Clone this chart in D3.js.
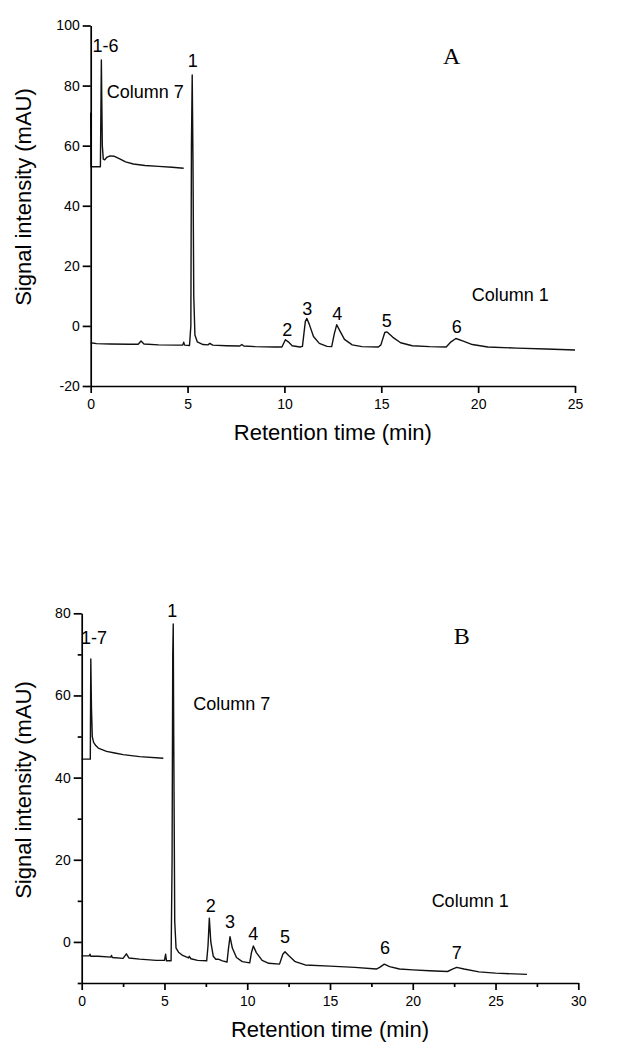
<!DOCTYPE html>
<html>
<head>
<meta charset="utf-8">
<script src="https://cdn.jsdelivr.net/npm/d3@7"></script>
<style>
  body { margin: 0; background: #fff; }
  svg { display: block; font-family: "Liberation Sans", Arial, sans-serif; }
  .axis path, .axis line { stroke: #000; stroke-width: 1.7; }
  .axis text { font-size: 14px; fill: #000; }
  .trace { fill: none; stroke: #111; stroke-width: 1.4; stroke-linejoin: round; }
</style>
</head>
<body>
<div id="chart"></div>
<script>
// ---- data: [time (min), signal (mAU)] ----
var col1A = [[0,-5.6],[0.3,-5.9],[1,-6.0],[2,-6.1],[2.45,-6.1],[2.6,-5.0],[2.75,-6.0],[3.5,-6.3],[4.5,-6.4],
  [4.75,-6.4],[4.8,-5.4],[4.85,-6.4],[5.1,-6.5],[5.17,0],[5.2,60],[5.24,83.5],[5.28,55],[5.32,10],[5.38,-3],
  [5.5,-5.3],[5.8,-6.2],[6.05,-6.3],[6.15,-5.8],[6.3,-6.4],[7,-6.6],[7.7,-6.7],[7.8,-6.2],[7.9,-6.7],[8.5,-6.9],
  [9.5,-7.0],[9.87,-7.0],[10.05,-4.6],[10.2,-5.3],[10.4,-6.6],[10.8,-7.0],[10.93,-6.8],[11.08,1.5],[11.16,2.5],
  [11.28,0.6],[11.5,-3.5],[11.8,-5.8],[12.2,-6.8],[12.44,-6.9],[12.58,-2.5],[12.7,0.4],[12.85,-1.5],[13.1,-4.5],
  [13.5,-6.3],[14,-6.9],[14.85,-7.0],[14.98,-6.3],[15.18,-2.2],[15.3,-2.0],[15.6,-3.8],[16,-5.6],[16.6,-6.6],
  [17.5,-6.9],[18.35,-7.0],[18.6,-5.3],[18.85,-4.2],[19.2,-5.0],[19.7,-6.2],[20.5,-7.0],[22,-7.4],[23.5,-7.7],[25,-8.0]];
var col7A = [[0,71],[0.02,53],[0.5,53],[0.55,88.5],[0.6,60],[0.65,55.5],[0.72,55.3],[0.85,56.2],[1.0,56.6],
  [1.2,56.5],[1.5,55.6],[1.8,54.6],[2.2,53.9],[2.8,53.4],[3.5,53.1],[4.2,52.8],[4.8,52.5]];
var col1B = [[0,-3.4],[0.45,-3.4],[0.5,-3.0],[0.55,-3.5],[1.0,-3.5],[1.75,-3.7],[1.8,-3.3],[1.85,-3.8],[2.5,-4.0],
  [2.7,-2.9],[2.85,-3.9],[3.5,-4.2],[4.5,-4.5],[5.0,-4.5],[5.07,-3.0],[5.12,-4.6],[5.4,-4.6],[5.46,20],[5.5,70],
  [5.53,77.4],[5.56,50],[5.62,5],[5.7,-1.5],[5.85,-2.5],[6.1,-3.3],[6.45,-3.9],[6.5,-3.5],[6.6,-4.1],[7.0,-4.5],
  [7.55,-4.6],[7.63,-1],[7.71,5.8],[7.8,0],[7.95,-3.5],[8.1,-4.2],[8.25,-4.2],[8.5,-4.6],[8.78,-4.9],[8.87,-1.5],
  [8.96,1.3],[9.1,-1.5],[9.35,-3.8],[9.7,-4.8],[10.15,-5.1],[10.26,-2.5],[10.37,-1.0],[10.55,-2.6],[10.9,-4.5],
  [11.3,-5.2],[11.95,-5.4],[12.15,-3.0],[12.28,-2.4],[12.5,-3.3],[12.9,-4.8],[13.5,-5.6],[15,-5.9],[16.5,-6.2],
  [17.8,-6.6],[18.0,-6.2],[18.28,-5.4],[18.6,-6.0],[19.2,-6.6],[20,-6.8],[21,-7.0],[22.1,-7.2],[22.4,-6.6],
  [22.65,-6.2],[23.1,-6.6],[24,-7.3],[25,-7.6],[26.9,-7.9]];
var col7B = [[0,44.5],[0.52,44.5],[0.55,68.9],[0.59,57],[0.64,50],[0.72,48.6],[0.85,47.8],[1.0,47.2],[1.5,46.4],
  [2.0,46.0],[2.5,45.6],[3.5,45.1],[4.93,44.7]];

// tick values
var ticksXA = [0, 5, 10, 15, 20, 25];
var ticksYA = [-20, 0, 20, 40, 60, 80, 100];
var ticksXB = [0, 5, 10, 15, 20, 25, 30];
var ticksYB = [0, 20, 40, 60, 80];
var minorXB = [2.5, 7.5, 12.5, 17.5, 22.5, 27.5];
var minorYB = [-10, 10, 30, 50, 70];

// annotations: [text, time, signal, anchor]
var labelsA = [["1-6", 0.76, 91.2, "middle"], ["Column 7", 0.83, 75.8, "start"], ["1", 5.27, 86.2, "middle"],
  ["Column 1", 19.67, 8.3, "start"], ["2", 10.15, -3.2, "middle"], ["3", 11.18, 3.8, "middle"],
  ["4", 12.73, 2.1, "middle"], ["5", 15.28, -0.3, "middle"], ["6", 18.89, -2.5, "middle"]];
var labelsB = [["1-7", 0.75, 72.6, "middle"], ["1", 5.47, 79.0, "middle"], ["Column 7", 6.74, 56.4, "start"],
  ["Column 1", 21.14, 8.4, "start"], ["2", 7.79, 7.4, "middle"], ["3", 8.96, 3.3, "middle"],
  ["4", 10.37, 0.5, "middle"], ["5", 12.28, -0.3, "middle"], ["6", 18.32, -3.0, "middle"], ["7", 22.65, -4.2, "middle"]];

var svg = d3.select("#chart").append("svg")
  .attr("width", 617)
  .attr("height", 1050);

// plain hyphen for negatives, like the original
var fmt = d => String(d);

function drawPanel(opt) {
  var x = d3.scaleLinear().domain(opt.xDomain).range(opt.xRange);
  var y = d3.scaleLinear().domain(opt.yDomain).range(opt.yRange);
  var g = svg.append("g");

  var line = d3.line().x(d => x(d[0])).y(d => y(d[1]));
  opt.traces.forEach(function(t) {
    g.append("path").datum(t).attr("class", "trace").attr("d", line);
  });

  // minor ticks first
  if (opt.minorX) {
    g.append("g").attr("class", "axis")
      .attr("transform", `translate(0,${opt.yRange[0]})`)
      .call(d3.axisBottom(x).tickValues(opt.minorX).tickSize(4).tickFormat(""))
      .select(".domain").remove();
  }
  if (opt.minorY) {
    g.append("g").attr("class", "axis")
      .attr("transform", `translate(${opt.xRange[0]},0)`)
      .call(d3.axisLeft(y).tickValues(opt.minorY).tickSize(4).tickFormat(""))
      .select(".domain").remove();
  }

  g.append("g").attr("class", "axis")
    .attr("transform", `translate(0,${opt.yRange[0]})`)
    .call(d3.axisBottom(x).tickValues(opt.ticksX).tickFormat(fmt).tickSize(7).tickSizeOuter(0).tickPadding(6));

  g.append("g").attr("class", "axis")
    .attr("transform", `translate(${opt.xRange[0]},0)`)
    .call(d3.axisLeft(y).tickValues(opt.ticksY).tickFormat(fmt).tickSize(8).tickSizeOuter(0).tickPadding(3));

  g.selectAll(".peak").data(opt.labels).enter().append("text")
    .attr("x", d => x(d[1]))
    .attr("y", d => y(d[2]))
    .attr("text-anchor", d => d[3])
    .attr("font-size", "18px")
    .text(d => d[0]);

  g.append("text")
    .attr("x", x(opt.panel[1]))
    .attr("y", y(opt.panel[2]))
    .attr("text-anchor", "middle")
    .attr("font-family", "'Liberation Serif', 'Times New Roman', serif")
    .attr("font-size", "24px")
    .text(opt.panel[0]);

  g.append("text")
    .attr("x", (opt.xRange[0] + opt.xRange[1]) / 2)
    .attr("y", opt.yRange[0] + 54)
    .attr("text-anchor", "middle")
    .attr("font-size", "22px")
    .text("Retention time (min)");

  g.append("text")
    .attr("transform", `translate(31,${opt.yTitleCenter}) rotate(-90)`)
    .attr("text-anchor", "middle")
    .attr("font-size", "22px")
    .text("Signal intensity (mAU)");
}

drawPanel({
  xDomain: [0, 25], xRange: [90.7, 575],
  yDomain: [-20, 100], yRange: [386, 25.5],
  traces: [col1A, col7A],
  ticksX: ticksXA, ticksY: ticksYA,
  labels: labelsA, panel: ["A", 18.64, 87.3],
  yTitleCenter: 197
});

drawPanel({
  xDomain: [0, 30], xRange: [81.7, 578.3],
  yDomain: [-10, 80], yRange: [983, 613.3],
  traces: [col1B, col7B],
  ticksX: ticksXB, ticksY: ticksYB,
  minorX: minorXB, minorY: minorYB,
  labels: labelsB, panel: ["B", 22.96, 72.6],
  yTitleCenter: 790
});
</script>
</body>
</html>
